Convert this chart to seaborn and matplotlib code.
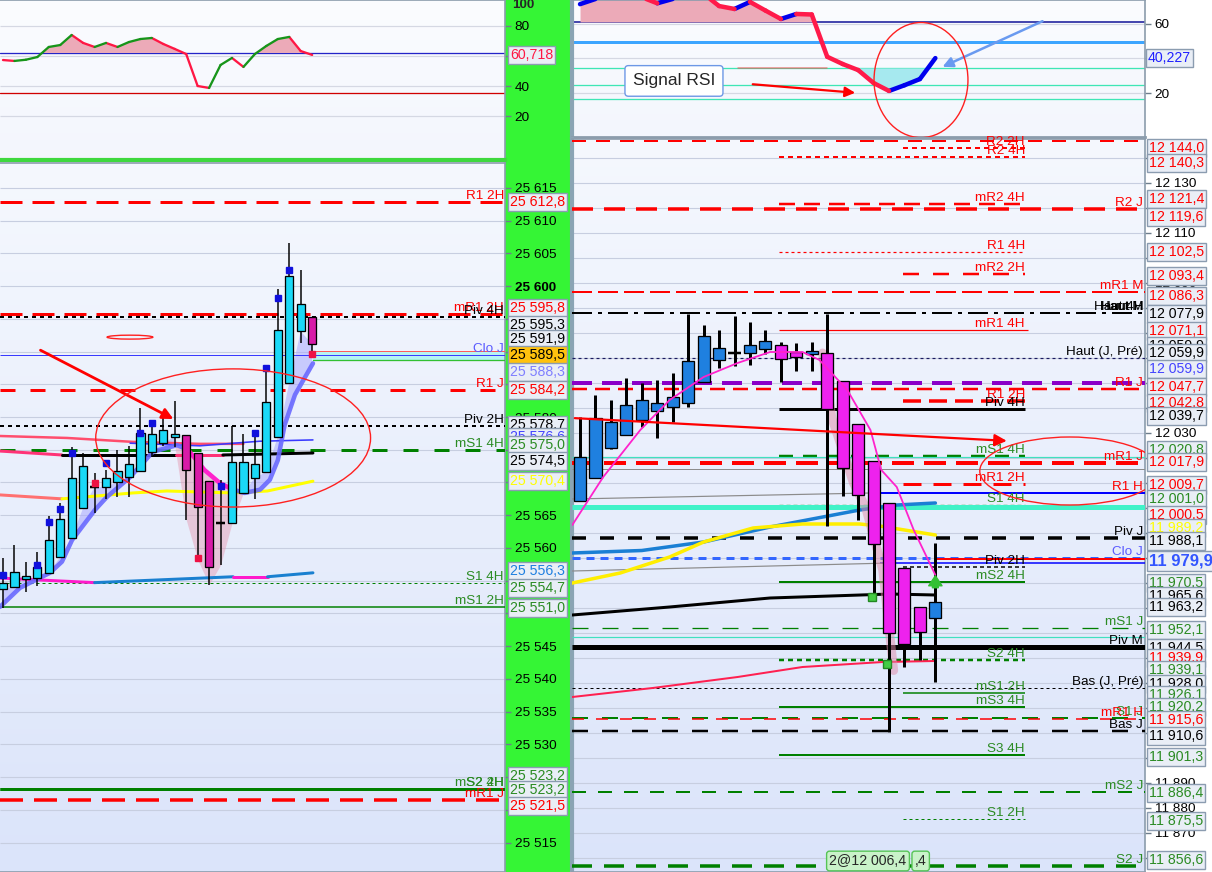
import numpy as np
import pandas as pd
import seaborn as sns
import matplotlib
matplotlib.use("Agg")
from matplotlib import pyplot as plt
from matplotlib import transforms
from matplotlib.patches import Rectangle, Ellipse
from matplotlib.colors import LinearSegmentedColormap

sns.set_theme(style="white")
plt.rcParams["font.family"] = ["Liberation Sans", "DejaVu Sans"]
plt.rcParams["lines.scale_dashes"] = False

PX = 0.72   # points per pixel at 100 dpi
FS = 9.7

# ---------------- left chart : 25 5xx ----------------
left_open = [25553.7, 25554.0, 25555.3, 25555.4, 25556.2, 25558.6, 25561.5, 25566.1, 25569.3, 25569.3,
             25570.1, 25570.8, 25571.8, 25574.7, 25576.0, 25577.0, 25577.3, 25574.5, 25570.2, 25563.8,
             25563.8, 25568.4, 25570.7, 25571.6, 25577.0, 25585.2, 25593.1, 25595.3]
left_high = [25558.5, 25560.5, 25557.9, 25559.4, 25564.9, 25566.9, 25575.4, 25574.5, 25571.5, 25571.9,
             25575.0, 25575.6, 25581.4, 25579.1, 25580.2, 25582.4, 25577.3, 25574.5, 25570.2, 25570.4,
             25578.6, 25577.4, 25578.0, 25587.6, 25599.5, 25606.6, 25602.4, 25595.3]
left_low = [25550.8, 25554.0, 25553.3, 25554.2, 25556.2, 25558.6, 25561.5, 25566.1, 25565.3, 25567.5,
            25567.8, 25567.8, 25571.8, 25573.9, 25575.6, 25575.4, 25564.3, 25558.2, 25554.4, 25557.4,
            25563.8, 25568.4, 25567.5, 25571.6, 25577.0, 25585.2, 25591.3, 25589.6]
left_close = [25554.7, 25556.3, 25555.7, 25557.1, 25561.2, 25564.4, 25570.7, 25572.5, 25569.3, 25570.7,
              25571.8, 25572.8, 25577.6, 25577.4, 25578.0, 25577.4, 25571.9, 25566.3, 25557.1, 25563.8,
              25573.1, 25573.1, 25572.8, 25582.3, 25593.3, 25601.5, 25597.3, 25591.1]
left_rsi = [57.3, 56.7, 57.5, 59.3, 66.0, 67.3, 74.0, 68.7, 66.0, 68.7, 66.0, 69.3, 71.3, 72.0,
            68.0, 64.7, 61.3, 40.0, 38.7, 54.0, 58.7, 52.7, 61.3, 66.7, 71.3, 72.7, 63.3, 60.718]
left_rsi_hi, left_rsi_lo = 62.0, 35.3

# indicator curves (x = bar index)
lt_blue1_x = [-0.26, 1.48, 4.1, 5.15, 6.03, 8.03, 9.08, 11.09, 13.1, 15.2, 16.16]
lt_blue1_y = [25551.0, 25553.9, 25556.2, 25557.9, 25561.2, 25565.8, 25567.8, 25570.8, 25574.7, 25575.7, 25575.0]
lt_mag_x = [16.16, 17.6, 18.95, 20.1]
lt_mag_y = [25575.0, 25571.9, 25569.9, 25568.9]
lt_blue2_x = [20.1, 21.1, 22.45, 23.3, 24.0, 24.6, 25.5, 27.07]
lt_blue2_y = [25568.9, 25568.4, 25568.9, 25570.4, 25573.4, 25578.8, 25583.4, 25588.2]
l_red_x = [-0.26, 5.6, 11.35, 17.2, 21.0]
l_red_y = [25577.1, 25576.8, 25576.2, 25575.9, 25575.9]
l_thin_x = [11.1, 17.2, 22.4, 27.07]
l_thin_y = [25576.0, 25575.6, 25576.3, 25576.5]
l_pk_x = [-0.26, 5.15, 15.1, 19.2, 27.07]
l_pk_y = [25574.8, 25574.2, 25574.2, 25574.2, 25574.5]
l_sal_x = [-0.26, 5.15]
l_sal_y = [25568.1, 25567.5]
l_yel_x = [5.15, 11.35, 14.3, 20.1, 23.1, 27.07]
l_yel_y = [25567.5, 25568.4, 25568.7, 25568.4, 25568.7, 25570.2]
l_bot_x = [-0.26, 8.0, 20.1, 23.1, 27.07]
l_bot_y = [25555.4, 25554.7, 25555.6, 25555.6, 25556.2]
l_band = (25588.7, 25590.1)

l_mark_blue_i = [0, 3, 4, 5, 6, 9, 12, 13, 19, 22, 23, 24, 25]
l_mark_blue_v = [25555.9, 25557.4, 25564.0, 25566.0, 25574.5, 25573.0, 25577.6, 25579.1,
                 25569.5, 25577.6, 25587.5, 25598.2, 25602.4]
l_mark_red_i = [8, 17, 27]
l_mark_red_v = [25569.9, 25558.5, 25589.6]

lp_lv_name = ["R1 2H", "mR1 2H", "Piv 4H", "Clo J", "R1 J", "Piv 2H", "mS1 4H", "S1 4H",
              "mS1 2H", "mS2 2H", "S2 4H", "mR1 J"]
lp_lv_value = [25612.8, 25595.8, 25595.3, 25589.5, 25584.2, 25578.7, 25575.0, 25554.7,
               25551.0, 25523.2, 25523.2, 25521.5]
lp_lv_color = ["R", "R", "K", "B", "R", "K", "G", "G", "G", "G", "G", "R"]
lp_lv_style = ["ld3", "ld3", "dot2", "solid1", "dash3", "dot2", "dash3g", "dot1",
               "solid15", "solid3", "solid3", "ld35"]

lp_box_val = [25612.8, 25595.8, 25595.3, 25591.9, 25589.5, 25588.3, 25584.2, 25578.7, 25576.6,
              25575.0, 25574.5, 25570.4, 25556.3, 25554.7, 25551.0, 25523.2, 25523.2, 25521.5]
lp_box_color = ["R", "R", "K", "K", "K", "L", "R", "K", "B", "G", "K", "Y", "S", "G", "G", "G", "G", "R"]
lp_box_pos = [25612.8, 25596.6, 25594.0, 25591.9, 25589.5, 25586.9, 25584.1, 25578.8, 25576.9,
              25575.7, 25573.3, 25570.2, 25556.5, 25553.9, 25550.8, 25525.2, 25523.1, 25520.6]

# ---------------- right chart : 12 0xx ----------------
right_open = [12002.8, 12012.0, 12024.0, 12029.2, 12035.2, 12038.8, 12040.4, 12042.0, 12050.4, 12059.2,
              12062.0, 12062.0, 12063.6, 12065.2, 12062.4, 12061.6, 12062.0, 12050.8, 12033.6, 12018.8,
              12002.0, 11976.0, 11960.4, 11956.0]
right_high = [12036.4, 12045.2, 12043.2, 12052.0, 12050.0, 12051.2, 12054.0, 12077.6, 12073.2, 12071.2,
              12076.8, 12074.4, 12071.2, 12066.4, 12066.0, 12066.4, 12077.6, 12050.8, 12033.6, 12018.8,
              12002.0, 11976.0, 11960.4, 11986.0]
right_low = [12002.8, 12012.0, 12023.6, 12029.2, 12032.4, 12028.0, 12034.4, 12040.4, 12050.4, 12056.0,
             12056.8, 12057.2, 12061.6, 12050.4, 12054.8, 12054.8, 11992.8, 12004.8, 11995.2, 11964.4,
             11910.4, 11936.4, 11939.2, 11930.4]
right_close = [12020.4, 12036.0, 12034.4, 12041.2, 12043.2, 12042.0, 12044.4, 12058.8, 12068.8, 12064.0,
               12062.0, 12065.2, 12066.8, 12059.6, 12060.4, 12062.8, 12039.6, 12016.0, 12005.2, 11985.6,
               11950.0, 11945.6, 11950.4, 11962.4]
right_rsi = [71.5, 74.5, 76.0, 77.0, 75.5, 72.0, 74.5, 76.5, 77.5, 70.4, 68.7, 72.8, 67.8, 62.9,
             65.8, 65.5, 41.0, 36.8, 33.3, 25.8, 21.2, 24.5, 28.1, 40.227]
right_rsi_hi, right_rsi_mid, right_rsi_lo = 61.2, 49.6, 34.5
right_rsi_bands = [24.6, 16.5]

r_blue_x = [-0.5, 4, 8, 12.3, 18.1, 20.5, 23]
r_blue_y = [11982.0, 11983.0, 11986.4, 11992.4, 11999.2, 12001.2, 12002.0]
r_yel_x = [-0.5, 2.6, 5.8, 8.0, 11.2, 14.4, 18.1, 19.4, 23]
r_yel_y = [11970.0, 11974.0, 11980.4, 11986.4, 11992.0, 11993.6, 11993.6, 11992.8, 11989.2]
r_blk_x = [-0.5, 5.8, 12.3, 20.1, 23]
r_blk_y = [11957.2, 11960.4, 11964.0, 11965.6, 11965.2]
r_red_x = [-0.5, 4.7, 10.2, 14.4, 19.6, 23]
r_red_y = [11924.4, 11928.0, 11932.4, 11936.4, 11938.4, 11938.8]
r_gray1_x, r_gray1_y = [-0.5, 18.8], [12003.6, 12006.0]
r_gray2_x, r_gray2_y = [-0.5, 20.1], [11974.8, 11978.0]
r_ma_x = [-0.5, 1.5, 3.9, 5.8, 8.0, 10.2, 12.3, 14.4, 15.5, 17.3, 18.8, 19.5, 20.5, 21.6, 23]
r_ma_y = [11993.2, 12012.4, 12031.2, 12043.2, 12052.4, 12058.0, 12062.4, 12062.4, 12059.2,
          12047.2, 12031.2, 12015.2, 12008.4, 11991.2, 11973.2]
r_shade_x = [15.7, 16.3, 17.7, 18.5, 19.6, 20.3]
r_shade_y = [12062.0, 12036.0, 12010.0, 12000.0, 11975.0, 11935.0]

rp_lv_name = ["", "R2 2H", "R2 4H", "mR2 4H", "R2 J", "R1 4H", "mR2 2H", "mR1 M", "Haut M", "mR1 4H",
              "Haut (J, Pré)", "", "R1 J", "R1 2H", "Piv 4H", "mS1 4H", "", "mR1 J", "", "mR1 2H",
              "R1 H", "S1 4H", "", "Piv J", "Clo J", "", "", "Piv 2H", "mS2 4H", "mS1 J",
              "", "Piv M", "S2 4H", "Bas (J, Pré)", "mS1 2H", "mS3 4H", "S1 J", "mR1 H", "Bas J", "S3 4H",
              "mS2 J", "S1 2H", "S2 J"]
rp_lv_value = [12146.8, 12144.0, 12140.3, 12121.4, 12119.6, 12102.5, 12093.4, 12086.3, 12077.9, 12071.1,
               12059.9, 12050.0, 12047.7, 12042.8, 12039.7, 12020.8, 12020.2, 12017.9, 12015.6, 12009.7,
               12006.0, 12001.0, 12000.2, 11988.1, 11979.9, 11978.0, 11979.6, 11976.4, 11970.5, 11952.1,
               11948.4, 11944.5, 11939.1, 11928.0, 11926.1, 11920.2, 11915.8, 11915.6, 11910.6, 11901.3,
               11886.4, 11875.5, 11856.6]
rp_lv_color = ["R", "R", "R", "R", "R", "R", "R", "R", "K", "R",
               "N", "P", "R", "R", "K", "G", "T", "R", "A", "R",
               "U", "G", "T2", "K", "C", "U", "R", "K", "G", "G",
               "T", "K", "G", "K", "G", "G", "G", "R", "K", "G",
               "G", "G", "G"]
rp_lv_style = ["r_top", "rdot2", "rdot2", "rdash25", "rld35", "rfine", "rdash25b", "rmrm", "dashdot", "solid12",
               "dot12", "purple", "dash25c", "dash35", "solid3", "gdash25", "solid12", "dash4", "solid1", "dash3r",
               "solid2", "dot13", "solid5", "dash35b", "dot3", "solid15", "solid2", "dot15", "solid2", "dash13",
               "solid12", "solid5", "dot25", "dot1", "solid15", "solid2", "dash2", "dash15", "dash25", "solid2",
               "dash2b", "dot1", "dash35c"]
rp_lv_span = ["J", "2H", "4H", "4H", "J", "4H", "2H", "J", "J", "4Hx",
              "J", "J", "J", "2H", "4H", "4H", "J", "J", "J", "2H",
              "H", "4H", "J", "J", "J", "H2", "C", "2H", "4H", "J",
              "J", "J", "4H", "J", "2H", "4H", "J", "J", "J", "4H",
              "J", "2H", "J"]
rp_extra_name = ["Haut H", "Haut 4H"]
rp_extra_value = [12077.9, 12077.9]

rp_box_val = [12144.0, 12140.3, 12121.4, 12119.6, 12102.5, 12093.4, 12086.3, 12077.9, 12071.1, 12059.9,
              12059.9, 12059.9, 12047.7, 12042.8, 12039.7, 12020.8, 12017.9, 12009.7, 12001.0, 12000.5,
              11989.2, 11988.1, 11970.5, 11965.6, 11963.2, 11952.1, 11944.5, 11939.9, 11939.1, 11928.0,
              11926.1, 11920.2, 11915.6, 11910.6, 11901.3, 11886.4, 11875.5, 11856.6]
rp_box_color = ["R", "R", "R", "R", "R", "R", "R", "K", "R", "K",
                "K", "B", "R", "R", "K", "G", "R", "R", "G", "R",
                "Y", "K", "G", "K", "K", "G", "K", "R", "G", "K",
                "G", "G", "R", "K", "G", "G", "G", "G"]
rp_box_pos = [12144.0, 12138.0, 12123.6, 12116.4, 12102.4, 12092.8, 12084.8, 12077.6, 12070.8, 12064.8,
              12062.0, 12055.6, 12048.4, 12042.0, 12036.8, 12023.2, 12018.4, 12009.2, 12003.6, 11997.2,
              11992.0, 11986.8, 11970.0, 11964.8, 11960.4, 11951.2, 11944.0, 11940.0, 11935.2, 11929.6,
              11925.2, 11920.4, 11915.2, 11908.8, 11900.4, 11886.0, 11874.8, 11859.2]
last_price, last_price_pos = 11979.9, 11978.8

# ---------------- styles ----------------
COL = {"R": "#ff0000", "K": "#000000", "G": "#008000", "B": "#3a3aff", "N": "#1a1a60", "P": "#8a00c8",
       "T": "#40e0c0", "T2": "#40f2c8", "A": "#8c8c8c", "U": "#0000ff", "C": "#3366ff",
       "L": "#7f7fff", "Y": "#ffff00", "S": "#1e7fe0"}
TXT = dict(COL, G="#2b8b23", B="#4444ff", C="#4a6aff", N="#000000")
LABEL_FIX = {"R1 H": "#ff0000", "Clo J": "#5a5aff"}

STYLES = {  # (line width px, dash pattern px)
    "ld3": (3, (22, 10)), "ld35": (3.5, (23, 11)), "dot2": (2, (4, 4)), "solid1": (1, None),
    "dash3": (3, (15, 15)), "dash3g": (3, (15, 16)), "dot1": (1, (3, 3)), "solid15": (1.5, None),
    "solid3": (3, None), "r_top": (2, (14, 10)), "rdot2": (2, (5, 4)), "rdash25": (2.5, (16, 9)),
    "rld35": (3.5, (21, 11)), "rfine": (1.2, (3, 3)), "rdash25b": (2.5, (16, 14)), "rmrm": (2, (20, 6)),
    "dashdot": (2, (20, 6, 4, 6)), "solid12": (1.2, None), "dot12": (1.2, (3, 3)), "purple": (4, (20, 10)),
    "dash25c": (2.5, (15, 8)), "dash35": (3.5, (18, 8)), "gdash25": (2.5, (14, 10)), "dash4": (4, (22, 10)),
    "dash3r": (3, (18, 12)), "solid2": (2, None), "dot13": (1.3, (4, 3)), "solid5": (5, None),
    "dash35b": (3.5, (14, 14)), "dot3": (3, (8, 6)), "dot15": (1.5, (4, 3)), "dash13": (1.3, (16, 14)),
    "dot25": (2.5, (5, 4)), "dash2": (2, (16, 14)), "dash15": (1.5, (12, 12)), "dash25": (2.5, (16, 14)),
    "dash2b": (2, (14, 12)), "dash35c": (3.5, (20, 12)),
}

L_XLIM = (-0.26, 43.84)
R_XLIM = (-0.52, 36.57)
R_SPAN = {"J": R_XLIM, "4H": (12.9, 28.8), "4Hx": (12.9, 29.0), "2H": (20.9, 28.8),
          "H": (19.0, R_XLIM[1]), "H2": (19.4, R_XLIM[1]), "C": (23.0, R_XLIM[1])}


def fmt(v):
    return f"{v:,.1f}".replace(",", " ").replace(".", ",")


def level(ax, y, x0, x1, color, style, z=3):
    lw, dash = STYLES[style]
    ln, = ax.plot([x0, x1], [y, y], color=color, lw=lw * PX, zorder=z, solid_capstyle="butt")
    if dash:
        ln.set_dashes([d * PX for d in dash])


def paint(ax, top, bottom):
    cmap = LinearSegmentedColormap.from_list("bg", [top, bottom])
    ax.imshow(np.linspace(0, 1, 256).reshape(-1, 1), cmap=cmap, aspect="auto",
              extent=[0, 1, 0, 1], transform=ax.transAxes, zorder=0)


def candles(ax, o, h, l, c, width, up, down, wick_px):
    o, h, l, c = map(np.asarray, (o, h, l, c))
    x = np.arange(len(o))
    ax.vlines(x, l, h, color="black", lw=wick_px * PX, zorder=6)
    body = np.abs(c - o)
    solid = body > 0
    cols = [up if cc >= oo else down for oo, cc in zip(o[solid], c[solid])]
    ax.bar(x[solid], body[solid], width, bottom=np.minimum(o, c)[solid], color=cols,
           edgecolor="black", linewidth=1.3 * PX, zorder=7)
    ax.hlines(c[~solid], x[~solid] - width / 2, x[~solid] + width / 2, color="black", lw=2.5 * PX, zorder=7)


def seg_df(vals):
    rows = []
    for i in range(len(vals) - 1):
        d = "up" if vals[i + 1] >= vals[i] else "down"
        rows += [(i, vals[i], i, d), (i + 1, vals[i + 1], i, d)]
    return pd.DataFrame(rows, columns=["x", "y", "seg", "dir"])


def curve(ax, xs, ys, color, lw_px, z=4, alpha=1.0):
    sns.lineplot(x=np.asarray(xs, float), y=np.asarray(ys, float), color=color,
                 linewidth=lw_px * PX, ax=ax, zorder=z, alpha=alpha)


def box(ax, xpix, y, text, color, fc="#e9eef6", weight="normal", size=FS + 0.5, z=20):
    tr = transforms.blended_transform_factory(fig.transFigure, ax.transData)
    ax.text(xpix / W, y, text, transform=tr, color=color, fontsize=size, weight=weight,
            va="center", ha="left", clip_on=False, zorder=z,
            bbox=dict(boxstyle="square,pad=0.14", fc=fc, ec="#8b9cb0", lw=1))


def style_price_axis(ax, ticks, labels):
    ax.yaxis.tick_right()
    ax.set_yticks(ticks)
    ax.set_yticklabels(labels)
    ax.tick_params(axis="y", length=4, width=1, pad=3, labelsize=FS, color="#6d7d8c", labelcolor="black")
    ax.set_xticks([])
    ax.set_xlabel("")
    ax.set_ylabel("")


# ---------------- figure ----------------
W, H = 1212, 872
fig = plt.figure(figsize=(W / 100, H / 100), dpi=100)
fig.patch.set_facecolor("white")


def add_ax(x0, y0, x1, y1):
    return fig.add_axes([x0 / W, 1 - y1 / H, (x1 - x0) / W, (y1 - y0) / H])


fig.add_artist(Rectangle((505 / W, 0), 65 / W, 1, transform=fig.transFigure, color="#35f535", zorder=-5))

ax_lr = add_ax(0, 0, 505, 160)
ax_lp = add_ax(0, 163, 505, 872)
ax_rr = add_ax(572, 0, 1145, 137)
ax_rp = add_ax(572, 139, 1145, 872)

for ax in (ax_lr, ax_lp, ax_rr, ax_rp):
    for s in ax.spines.values():
        s.set_color("#8b9cac")
        s.set_linewidth(1.2)
ax_lr.spines["bottom"].set_color("#3ed83e")
ax_lr.spines["bottom"].set_linewidth(3)
ax_lr.spines["left"].set_visible(False)
ax_lp.spines["left"].set_visible(False)
for ax in (ax_rr, ax_rp):
    ax.spines["left"].set_linewidth(3)
    ax.spines["left"].set_color("#8aa4b4")
ax_rr.spines["bottom"].set_linewidth(2)

# ---------- left RSI ----------
paint(ax_lr, "#fbfcff", "#f3f6fd")
ax_lr.hlines([20, 40, 60, 80], *L_XLIM, color="#d5d8e3", lw=1.2 * PX, zorder=1)
ax_lr.axhline(left_rsi_hi, color="#2424c8", lw=1.3 * PX, zorder=2)
ax_lr.axhline(left_rsi_lo, color="#d00000", lw=1.3 * PX, zorder=2)
lx = np.arange(len(left_rsi))
lr = np.array(left_rsi)
ax_lr.fill_between(lx, lr, left_rsi_hi, where=lr > left_rsi_hi, interpolate=True, color="#ecaab8", zorder=2.5, lw=0)
sns.lineplot(data=seg_df(left_rsi), x="x", y="y", units="seg", estimator=None, hue="dir",
             palette={"up": "#17951a", "down": "#ff1744"}, linewidth=2.3 * PX, legend=False, ax=ax_lr, zorder=4)
ax_lr.set_xlim(*L_XLIM)
ax_lr.set_ylim(-9.3, 97.3)
style_price_axis(ax_lr, [20, 40, 60, 80], ["20", "40", "60", "80"])
tr_lr = transforms.blended_transform_factory(fig.transFigure, ax_lr.transData)
ax_lr.text(512 / W, 94.3, "100", transform=tr_lr, fontsize=FS, weight="bold", va="center", clip_on=False)
box(ax_lr, 510, left_rsi[-1], f"{left_rsi[-1]:.3f}".replace(".", ","), "#ff1744")

# ---------- left price ----------
paint(ax_lp, "#f5f8fe", "#dbe4fa")
ax_lp.hlines(np.arange(25515, 25620, 5), *L_XLIM, color="#c7cee0", lw=1.1 * PX, zorder=1)
for name, v, c, st in zip(lp_lv_name, lp_lv_value, lp_lv_color, lp_lv_style):
    level(ax_lp, v, L_XLIM[0], L_XLIM[1], COL[c], st)
    ax_lp.text(43.75, v, name, color=LABEL_FIX.get(name, TXT[c]), fontsize=FS, ha="right", va="bottom", zorder=9)
ax_lp.fill_between([27.07, L_XLIM[1]], l_band[0], l_band[1], color="#b5f3f3", zorder=2, lw=0)
ax_lp.plot([27.07, L_XLIM[1]], [l_band[1]] * 2, color="#ff5a5a", lw=1 * PX, zorder=3)
ax_lp.plot([27.07, L_XLIM[1]], [l_band[0]] * 2, color="#32c032", lw=1.3 * PX, zorder=3)

# translucent trend shading between the trend line and the candle bodies
trend_x = np.array(lt_blue1_x + lt_mag_x[1:] + lt_blue2_x[1:])
trend_y = np.array(lt_blue1_y + lt_mag_y[1:] + lt_blue2_y[1:])
bx = np.arange(len(left_open))
body_lo = np.minimum(left_open, left_close)
tr_at = np.interp(bx, trend_x, trend_y)
up_zone = (bx <= 16) | (bx >= 20)
ax_lp.fill_between(bx, tr_at, body_lo, where=up_zone & (body_lo > tr_at), interpolate=True,
                   color="#a9a9ff", alpha=0.55, zorder=2.6, lw=0)
dn = (bx >= 16) & (bx <= 20)
ax_lp.fill_between(bx, tr_at, np.array(left_low), where=dn, interpolate=True,
                   color="#e6a0b8", alpha=0.5, zorder=2.6, lw=0)

curve(ax_lp, l_red_x, l_red_y, "#ff4d6d", 2.5)
curve(ax_lp, l_thin_x, l_thin_y, "#3a3aff", 1.6)
pk_cols = ["#ff3377", "#000000", "#ff3377", "#000000"]
for i, c in enumerate(pk_cols):
    curve(ax_lp, l_pk_x[i:i + 2], l_pk_y[i:i + 2], c, 3)
curve(ax_lp, l_sal_x, l_sal_y, "#ff7070", 3)
curve(ax_lp, l_yel_x, l_yel_y, "#ffff00", 3)
bot_cols = ["#ff1acb", "#1a80d0", "#ff1acb", "#1a80d0"]
for i, c in enumerate(bot_cols):
    curve(ax_lp, l_bot_x[i:i + 2], l_bot_y[i:i + 2], c, 3)
curve(ax_lp, lt_blue1_x, lt_blue1_y, "#6a6aff", 4.5, z=4.5, alpha=0.9)
curve(ax_lp, lt_mag_x, lt_mag_y, "#ff22cc", 4.5, z=4.5)
curve(ax_lp, lt_blue2_x, lt_blue2_y, "#6a6aff", 4.5, z=4.5, alpha=0.9)

candles(ax_lp, left_open, left_high, left_low, left_close, 0.72, "#1ad9f7", "#d81ca8", 1.5)
ax_lp.plot(l_mark_blue_i, l_mark_blue_v, "s", color="#1010dd", ms=4, zorder=8)
ax_lp.plot(l_mark_red_i, l_mark_red_v, "s", color="#ee1144", ms=4, zorder=8)

ax_lp.annotate("", xy=(15.1, 25579.5), xytext=(3.06, 25590.4),
               arrowprops=dict(arrowstyle="-|>", color="red", lw=2, mutation_scale=16), zorder=10)
ax_lp.add_patch(Ellipse((20.1, 25576.8), 24.0, 21.1, fill=False, ec="#ff2020", lw=1, zorder=10))
ax_lp.add_patch(Ellipse((11.09, 25592.2), 4.0, 0.6, fill=False, ec="#ff2020", lw=1, zorder=10))

ax_lp.set_xlim(*L_XLIM)
ax_lp.set_ylim(25510.5, 25618.8)
lt = np.arange(25515, 25620, 5)
style_price_axis(ax_lp, lt, [f"{t:,}".replace(",", " ") for t in lt])
for t in ax_lp.get_yticklabels():
    if t.get_text() == "25 600":
        t.set_fontweight("bold")
for v, c, p in zip(lp_box_val, lp_box_color, lp_box_pos):
    box(ax_lp, 510, p, fmt(v), TXT[c], fc="#ffc20e" if v == 25589.5 else "#e9eef6")

# ---------- right RSI ----------
paint(ax_rr, "#fbfcff", "#f3f6fd")
ax_rr.hlines([20, 40, 60], *R_XLIM, color="#d5d8e3", lw=1.2 * PX, zorder=1)
ax_rr.axhline(right_rsi_hi, color="#1c1c9c", lw=1.6 * PX, zorder=2)
ax_rr.axhline(right_rsi_mid, color="#3da5ff", lw=3 * PX, zorder=2)
for v in [right_rsi_lo] + right_rsi_bands:
    ax_rr.axhline(v, color="#3fe6b5", lw=1.3 * PX, zorder=2)
rx = np.arange(len(right_rsi))
rr = np.array(right_rsi)
ax_rr.fill_between(rx, rr, right_rsi_hi, where=rr > right_rsi_hi, interpolate=True, color="#ecaab8", zorder=2.5, lw=0)
ax_rr.fill_between(rx, rr, right_rsi_lo, where=rr < right_rsi_lo, interpolate=True, color="#a6e9ef", zorder=2.5, lw=0)
sns.lineplot(data=seg_df(right_rsi), x="x", y="y", units="seg", estimator=None, hue="dir",
             palette={"up": "#0000ee", "down": "#ff1a4a"}, linewidth=4.5 * PX, legend=False, ax=ax_rr, zorder=4)
ax_rr.plot([10.2, 16.0], [right_rsi_lo, right_rsi_lo], color="#ff4040", lw=1.5 * PX, alpha=0.6, zorder=3)
ax_rr.text(6.08, 27.0, "Signal RSI", fontsize=12.5, ha="center", va="center", zorder=9,
           bbox=dict(boxstyle="round,pad=0.45,rounding_size=0.2", fc="white", ec="#6d98e6", lw=1))
ax_rr.annotate("", xy=(17.99, 20.0), xytext=(11.0, 25.2),
               arrowprops=dict(arrowstyle="-|>", color="red", lw=1.6, mutation_scale=15), zorder=10)
ax_rr.annotate("", xy=(23.3, 34.5), xytext=(30.1, 62.3),
               arrowprops=dict(arrowstyle="-|>", color="#6a9af0", lw=1.8, mutation_scale=15), zorder=10)
ax_rr.add_patch(Ellipse((22.07, 27.5), 6.08, 66.7, fill=False, ec="#ff2020", lw=1, zorder=10))
ax_rr.set_xlim(*R_XLIM)
ax_rr.set_ylim(-5.5, 73.9)
style_price_axis(ax_rr, [20, 40, 60], ["20", "40", "60"])
box(ax_rr, 1148, right_rsi[-1], f"{right_rsi[-1]:.3f}".replace(".", ","), "#2020ff")

# ---------- right price ----------
paint(ax_rp, "#f5f8fe", "#dbe4fa")
rt = np.arange(11860, 12150, 10)
ax_rp.hlines(rt, *R_XLIM, color="#c7cee0", lw=1.1 * PX, zorder=1)
for name, v, c, st, sp in zip(rp_lv_name, rp_lv_value, rp_lv_color, rp_lv_style, rp_lv_span):
    x0, x1 = R_SPAN[sp]
    level(ax_rp, v, x0, x1, COL[c], st)
    if name:
        lx_ = 36.45 if sp in ("J", "H", "H2", "C") else 28.8
        ax_rp.text(lx_, v, name, color=LABEL_FIX.get(name, TXT[c]), fontsize=FS, ha="right", va="bottom", zorder=9)
for name, v in zip(rp_extra_name, rp_extra_value):
    ax_rp.text(36.45, v, name, color="black", fontsize=FS, ha="right", va="bottom", zorder=9)

curve(ax_rp, r_gray1_x, r_gray1_y, "#8c8c8c", 1.2)
curve(ax_rp, r_gray2_x, r_gray2_y, "#8c8c8c", 1.2)
curve(ax_rp, r_shade_x, r_shade_y, "#e08aa8", 9, z=4.2, alpha=0.5)
curve(ax_rp, r_blue_x, r_blue_y, "#1a7fd4", 3.5)
curve(ax_rp, r_yel_x, r_yel_y, "#ffee00", 3.5)
curve(ax_rp, r_blk_x, r_blk_y, "#000000", 3)
curve(ax_rp, r_red_x, r_red_y, "#ff2050", 2)
candles(ax_rp, right_open, right_high, right_low, right_close, 0.78, "#1f80e0", "#ee22ee", 3)
curve(ax_rp, r_ma_x, r_ma_y, "#ff22cc", 1.8, z=8)
ax_rp.plot([18.9, 19.9], [11964.4, 11937.6], "s", color="#44cc44", mec="#228822", ms=6, zorder=8)
ax_rp.annotate("", xy=(23, 11974.0), xytext=(23, 11967.0),
               arrowprops=dict(arrowstyle="simple,head_width=0.8,head_length=0.6,tail_width=0.35",
                               color="#33c033"), zorder=9)

ax_rp.annotate("", xy=(27.8, 12026.8), xytext=(-0.52, 12036.0),
               arrowprops=dict(arrowstyle="-|>", color="red", lw=1.6, mutation_scale=18), zorder=10)
ax_rp.add_patch(Ellipse((31.7, 12014.8), 11.65, 27.2, fill=False, ec="#ff2020", lw=1, zorder=10))

ax_rp.text(18.64, 11858.8, "2@12 006,4", fontsize=FS + 0.5, ha="center", va="center", zorder=11,
           bbox=dict(boxstyle="round,pad=0.2", fc="#c9f2c9", ec="#56c456", lw=1))
ax_rp.text(22.05, 11858.8, ",4", fontsize=FS + 0.5, ha="center", va="center", zorder=10.5,
           bbox=dict(boxstyle="round,pad=0.2", fc="#c9f2c9", ec="#56c456", lw=1))

ax_rp.set_xlim(*R_XLIM)
ax_rp.set_ylim(11854.4, 12147.6)
style_price_axis(ax_rp, rt, [f"{t:,}".replace(",", " ") for t in rt])
for v, c, p in zip(rp_box_val, rp_box_color, rp_box_pos):
    box(ax_rp, 1149, p, fmt(v), TXT[c])
box(ax_rp, 1149, last_price_pos, fmt(last_price), "#3355ff", weight="bold", size=12, z=21)

fig.savefig("out.png", dpi=100)
